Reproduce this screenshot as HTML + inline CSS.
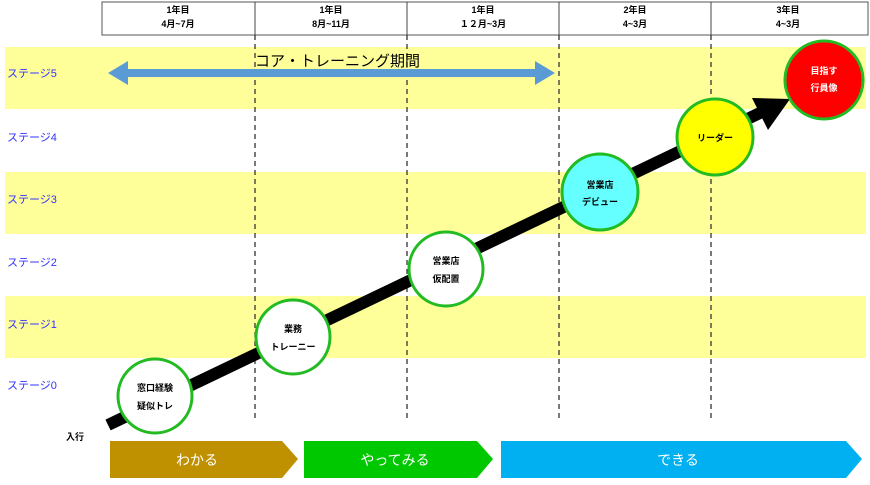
<!DOCTYPE html>
<html><head><meta charset="utf-8"><style>
body{margin:0;width:870px;height:480px;background:#fff;overflow:hidden;font-family:"Liberation Sans","Noto Sans CJK JP",sans-serif}
</style></head><body>
<svg width="870" height="480" xmlns="http://www.w3.org/2000/svg" font-family="Liberation Sans, Noto Sans CJK JP, sans-serif">
<rect x="5" y="47" width="861" height="62" fill="#FFFF99"/>
<rect x="5" y="172" width="861" height="62" fill="#FFFF99"/>
<rect x="5" y="296" width="861" height="62" fill="#FFFF99"/>
<rect x="102" y="2" width="766" height="33" fill="#fff" stroke="#555" stroke-width="1"/>
<g stroke="#444" stroke-width="1">
<line x1="255" y1="2" x2="255" y2="35"/><line x1="407" y1="2" x2="407" y2="35"/><line x1="559" y1="2" x2="559" y2="35"/><line x1="711" y1="2" x2="711" y2="35"/>
</g>
<g stroke="#333" stroke-width="1.3" stroke-dasharray="5,4">
<line x1="255" y1="35" x2="255" y2="422"/><line x1="407" y1="35" x2="407" y2="422"/><line x1="559" y1="35" x2="559" y2="422"/><line x1="711" y1="35" x2="711" y2="422"/>
</g>
<g font-size="9" font-weight="bold" text-anchor="middle" fill="#000">
<text x="178" y="13">1年目</text><text x="178" y="27">4月~7月</text>
<text x="331" y="13">1年目</text><text x="331" y="27">8月~11月</text>
<text x="483" y="13">1年目</text><text x="483" y="27">１２月~3月</text>
<text x="635" y="13">2年目</text><text x="635" y="27">4~3月</text>
<text x="788" y="13">3年目</text><text x="788" y="27">4~3月</text>
</g>
<g font-size="11" fill="#3333ff">
<text x="7" y="77">ステージ5</text><text x="7" y="141">ステージ4</text><text x="7" y="203">ステージ3</text>
<text x="7" y="266">ステージ2</text><text x="7" y="328">ステージ1</text><text x="7" y="389">ステージ0</text>
</g>
<polygon points="108,73 128,61 128,69 535,69 535,61 555,73 535,85 535,77 128,77 128,85" fill="#5B9BD5"/>
<text x="255" y="66" font-size="15" fill="#000">コア・トレーニング期間</text>
<line x1="108" y1="425" x2="762" y2="112" stroke="#000" stroke-width="12"/>
<polygon points="790,99 752,98 768,130" fill="#000"/>
<g stroke="#22bb22" stroke-width="3">
<circle cx="155" cy="396" r="37" fill="#fff"/>
<circle cx="293" cy="337" r="37" fill="#fff"/>
<circle cx="446" cy="269" r="37" fill="#fff"/>
<circle cx="600" cy="192" r="38" fill="#66FFFF"/>
<circle cx="715" cy="137" r="38" fill="#FFFF00"/>
<circle cx="824" cy="80" r="39" fill="#FF0000"/>
</g>
<g font-size="9" font-weight="bold" text-anchor="middle" fill="#000">
<text x="155" y="391">窓口経験</text><text x="155" y="409">疑似トレ</text>
<text x="293" y="332">業務</text><text x="293" y="350">トレーニー</text>
<text x="446" y="264">営業店</text><text x="446" y="282">仮配置</text>
<text x="600" y="188">営業店</text><text x="600" y="205">デビュー</text>
<text x="715" y="141">リーダー</text>
<text x="824" y="74" fill="#fff">目指す</text><text x="824" y="91" fill="#fff">行員像</text>
</g>
<text x="66" y="440" font-size="9" font-weight="bold">入行</text>
<polygon points="110,441 282,441 298,459 282,478 110,478" fill="#BF9000"/>
<polygon points="304,441 477,441 493,459 477,478 304,478" fill="#00C800"/>
<polygon points="501,441 846,441 862,459 846,478 501,478" fill="#00B0F0"/>
<g font-size="14" fill="#fff" text-anchor="middle">
<text x="197" y="465">わかる</text><text x="395" y="465">やってみる</text><text x="678" y="465">できる</text>
</g>
</svg>
</body></html>
